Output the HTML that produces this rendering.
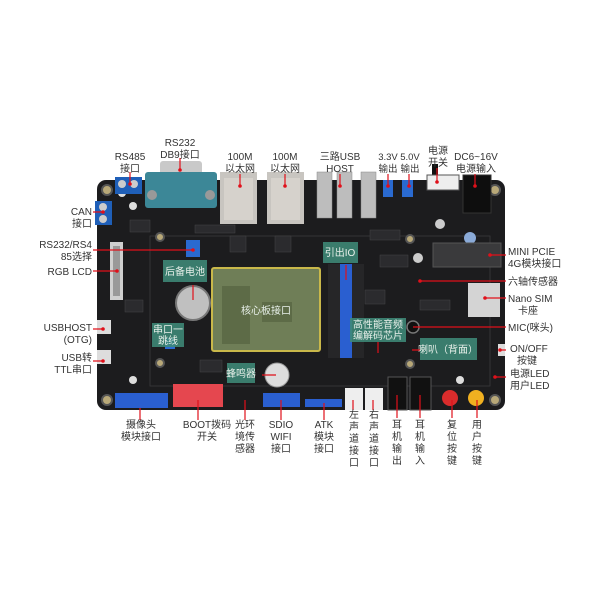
<!DOCTYPE html>
<html><head><meta charset="utf-8"><style>
html,body{margin:0;padding:0;background:#fff;}
svg{display:block}
text{font-family:"Liberation Sans","Noto Sans CJK SC",sans-serif;font-size:10px;fill:#333}
.lb{fill:#e8f0ea;font-size:10px}
.sm{font-size:9.5px}
</style></head><body>
<svg width="600" height="600" viewBox="0 0 600 600" xmlns="http://www.w3.org/2000/svg">
<rect width="600" height="600" fill="#fff"/>
<rect x="97" y="180" width="408" height="230" rx="9" fill="#1c1c1e"/>
<rect x="150" y="236" width="340" height="150" fill="none" stroke="#3a3a3c" stroke-width="0.8"/>
<g fill="#b8a878" stroke="#555" stroke-width="2">
<circle cx="107" cy="190" r="5"/><circle cx="495" cy="190" r="5"/><circle cx="107" cy="400" r="5"/><circle cx="495" cy="400" r="5"/>
<circle cx="160" cy="237" r="4"/><circle cx="410" cy="239" r="4"/><circle cx="160" cy="363" r="4"/><circle cx="410" cy="364" r="4"/>
</g>
<g fill="#ddd"><circle cx="122" cy="193" r="4"/><circle cx="133" cy="206" r="4"/><circle cx="133" cy="380" r="4"/><circle cx="460" cy="380" r="4"/></g>
<g fill="#2b2b2e" stroke="#444" stroke-width="0.5">
<rect x="230" y="236" width="16" height="16"/><rect x="275" y="236" width="16" height="16"/>
<rect x="195" y="225" width="40" height="8"/><rect x="370" y="230" width="30" height="10"/>
<rect x="130" y="220" width="20" height="12"/><rect x="380" y="255" width="28" height="12"/>
<rect x="365" y="290" width="20" height="14"/><rect x="125" y="300" width="18" height="12"/>
<rect x="420" y="300" width="30" height="10"/><rect x="200" y="360" width="22" height="12"/>
</g>
<rect x="95" y="201" width="17" height="24" fill="#1f5fb8"/><circle cx="103" cy="207" r="4" fill="#ccc"/><circle cx="103" cy="219" r="4" fill="#ccc"/>
<rect x="115" y="177" width="27" height="17" fill="#1f5fb8"/><circle cx="122" cy="184" r="4" fill="#ccc"/><circle cx="134" cy="184" r="4" fill="#ccc"/>
<rect x="160" y="161" width="42" height="20" rx="3" fill="#c9c9c9"/>
<rect x="145" y="172" width="72" height="36" rx="3" fill="#3c8797"/>
<circle cx="152" cy="195" r="5" fill="#999"/><circle cx="210" cy="195" r="5" fill="#999"/>
<rect x="220" y="172" width="37" height="52" fill="#c8c5c0"/><rect x="267" y="172" width="37" height="52" fill="#c8c5c0"/>
<rect x="224" y="178" width="29" height="42" fill="#d6d2cc"/><rect x="271" y="178" width="29" height="42" fill="#d6d2cc"/>
<g fill="#bdbdbd" stroke="#888" stroke-width="0.5">
<rect x="317" y="172" width="15" height="46"/><rect x="337" y="172" width="15" height="46"/><rect x="361" y="172" width="15" height="46"/></g>
<g fill="#2a6ad0"><rect x="383" y="180" width="10" height="17"/><rect x="402" y="180" width="11" height="17"/>
<rect x="186" y="240" width="14" height="17"/><rect x="165" y="338" width="10" height="11"/></g>
<rect x="432" y="164" width="6" height="14" fill="#111"/>
<rect x="427" y="175" width="32" height="15" fill="#eee" stroke="#555" stroke-width="1"/>
<rect x="463" y="175" width="28" height="38" fill="#0e0e0e" stroke="#333"/>
<circle cx="470" cy="238" r="6" fill="#8aaad8"/><circle cx="440" cy="224" r="5" fill="#ccc"/><circle cx="418" cy="258" r="5" fill="#ccc"/>
<rect x="110" y="242" width="13" height="58" fill="#cfcfcf"/><rect x="113" y="246" width="7" height="50" fill="#999"/>
<rect x="97" y="320" width="14" height="14" fill="#ddd"/><rect x="97" y="350" width="14" height="14" fill="#ddd"/>
<circle cx="193" cy="303" r="17" fill="#c0c0c0" stroke="#777" stroke-width="2"/>
<rect x="212" y="268" width="108" height="83" rx="2" fill="#6f7e57" stroke="#c9b84a" stroke-width="2"/>
<rect x="222" y="286" width="28" height="58" fill="#5d6b47"/><rect x="262" y="302" width="30" height="20" fill="#5d6b47"/>
<rect x="328" y="264" width="36" height="94" fill="#262628"/>
<rect x="340" y="264" width="12" height="94" fill="#2a5fd0"/>
<rect x="433" y="243" width="68" height="24" fill="#3a3a3c" stroke="#555"/>
<rect x="468" y="283" width="32" height="34" fill="#d4d4d4"/>
<circle cx="413" cy="327" r="6" fill="#111" stroke="#777" stroke-width="1.5"/>
<rect x="498" y="344" width="7" height="12" fill="#ddd"/>
<circle cx="277" cy="375" r="12" fill="#ddd" stroke="#999"/>
<rect x="115" y="393" width="53" height="15" fill="#2a5fd0"/>
<rect x="173" y="384" width="50" height="23" fill="#e5474f"/>
<rect x="263" y="393" width="37" height="14" fill="#2a5fd0"/>
<rect x="305" y="399" width="37" height="8" fill="#2a5fd0"/>
<rect x="345" y="388" width="18" height="22" fill="#eee"/><rect x="365" y="388" width="18" height="22" fill="#eee"/>
<rect x="388" y="377" width="19" height="33" fill="#111" stroke="#555"/><rect x="410" y="377" width="21" height="33" fill="#111" stroke="#555"/>
<circle cx="450" cy="398" r="8" fill="#d92c2c"/><circle cx="476" cy="398" r="8" fill="#f0b020"/>
<g fill="#3f8a78" opacity="0.88">
<rect x="163" y="260" width="44" height="22"/><rect x="152" y="323" width="32" height="24"/>
<rect x="323" y="242" width="35" height="21"/><rect x="350" y="318" width="56" height="24"/>
<rect x="420" y="338" width="57" height="22"/><rect x="227" y="363" width="28" height="20"/>
</g>
<g class="lb" text-anchor="middle">
<text class="lb" x="185" y="275">后备电池</text>
<text class="lb" x="168" y="333">串口一</text><text class="lb" x="168" y="344">跳线</text>
<text class="lb" x="340" y="256">引出IO</text>
<text class="lb" x="378" y="328">高性能音频</text><text class="lb" x="378" y="339">编解码芯片</text>
<text class="lb" x="448" y="353">喇叭（背面）</text>
<text class="lb" x="241" y="377">蜂鸣器</text>
<text class="lb" x="266" y="314">核心板接口</text>
</g>
<g stroke="#e0101a" stroke-width="1.2" fill="none">
<path d="M130 172V184M180 158V170M240 174V186M285 174V186M340 174V186M388 174V186M409 174V186M437 168V182M475 174V186"/>
<path d="M93 212H103M93 250H193M93 271H117M93 329H103M93 361H103"/>
<path d="M506 255H490M506 281H420M506 298H485M506 327H413M506 350H500M506 377H495"/>
<path d="M140 408V420M198 400V420M245 400V420M281 400V420M324 403V420M353 400V410M373 400V410M397 395V418M420 395V418M452 400V418M477 400V418"/>
<path d="M193 285V300M346 265V280M276 375H262M420 350H412M378 342V353"/>
</g>
<g fill="#e0101a">
<circle cx="130" cy="184" r="1.8"/><circle cx="180" cy="170" r="1.8"/><circle cx="240" cy="186" r="1.8"/><circle cx="285" cy="186" r="1.8"/><circle cx="340" cy="186" r="1.8"/><circle cx="388" cy="186" r="1.8"/><circle cx="409" cy="186" r="1.8"/><circle cx="437" cy="182" r="1.8"/><circle cx="475" cy="186" r="1.8"/>
<circle cx="103" cy="212" r="1.8"/><circle cx="193" cy="250" r="1.8"/><circle cx="117" cy="271" r="1.8"/><circle cx="103" cy="329" r="1.8"/><circle cx="103" cy="361" r="1.8"/>
<circle cx="490" cy="255" r="1.8"/><circle cx="420" cy="281" r="1.8"/><circle cx="485" cy="298" r="1.8"/><circle cx="500" cy="350" r="1.8"/><circle cx="495" cy="377" r="1.8"/>
</g>
<g text-anchor="middle">
<text x="130" y="160">RS485</text><text x="130" y="172">接口</text>
<text x="180" y="146">RS232</text><text x="180" y="158">DB9接口</text>
<text x="240" y="160">100M</text><text x="240" y="172">以太网</text>
<text x="285" y="160">100M</text><text x="285" y="172">以太网</text>
<text x="340" y="160">三路USB</text><text x="340" y="172">HOST</text>
<text class="sm" x="388" y="160">3.3V</text><text class="sm" x="388" y="172">输出</text>
<text class="sm" x="410" y="160">5.0V</text><text class="sm" x="410" y="172">输出</text>
<text x="438" y="154">电源</text><text x="438" y="166">开关</text>
<text x="476" y="160">DC6~16V</text><text x="476" y="172">电源输入</text>
</g>
<g text-anchor="end">
<text x="92" y="215">CAN</text><text x="92" y="227">接口</text>
<text x="92" y="248">RS232/RS4</text><text x="92" y="260">85选择</text>
<text x="92" y="275">RGB LCD</text>
<text x="92" y="331">USBHOST</text><text x="92" y="343">(OTG)</text>
<text x="92" y="361">USB转</text><text x="92" y="373">TTL串口</text>
</g>
<g>
<text x="508" y="255">MINI PCIE</text><text x="508" y="267">4G模块接口</text>
<text x="508" y="285">六轴传感器</text>
<text x="508" y="302">Nano SIM</text><text x="518" y="314">卡座</text>
<text x="508" y="331">MIC(咪头)</text>
<text x="510" y="352">ON/OFF</text><text x="517" y="364">按键</text>
<text x="510" y="377">电源LED</text><text x="510" y="389">用户LED</text>
</g>
<g text-anchor="middle">
<text x="141" y="428">摄像头</text><text x="141" y="440">模块接口</text>
<text x="207" y="428">BOOT拨码</text><text x="207" y="440">开关</text>
<text x="245" y="428">光环</text><text x="245" y="440">境传</text><text x="245" y="452">感器</text>
<text x="281" y="428">SDIO</text><text x="281" y="440">WIFI</text><text x="281" y="452">接口</text>
<text x="324" y="428">ATK</text><text x="324" y="440">模块</text><text x="324" y="452">接口</text>
<text x="354" y="418">左</text><text x="354" y="430">声</text><text x="354" y="442">道</text><text x="354" y="454">接</text><text x="354" y="466">口</text>
<text x="374" y="418">右</text><text x="374" y="430">声</text><text x="374" y="442">道</text><text x="374" y="454">接</text><text x="374" y="466">口</text>
<text x="397" y="428">耳</text><text x="397" y="440">机</text><text x="397" y="452">输</text><text x="397" y="464">出</text>
<text x="420" y="428">耳</text><text x="420" y="440">机</text><text x="420" y="452">输</text><text x="420" y="464">入</text>
<text x="452" y="428">复</text><text x="452" y="440">位</text><text x="452" y="452">按</text><text x="452" y="464">键</text>
<text x="477" y="428">用</text><text x="477" y="440">户</text><text x="477" y="452">按</text><text x="477" y="464">键</text>
</g>
</svg>
</body></html>
